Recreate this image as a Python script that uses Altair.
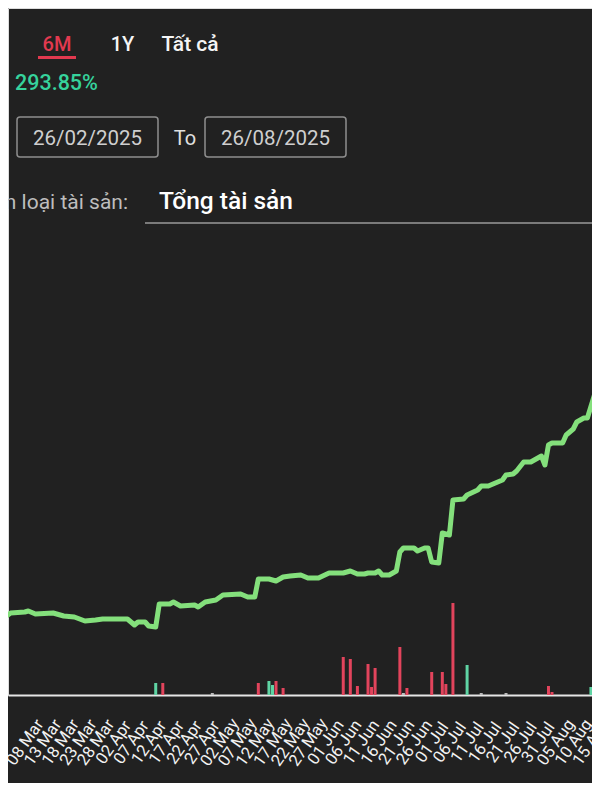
import altair as alt
import pandas as pd

# ---------------- data ----------------
LINE_DATES = [
    "2025-02-26", "2025-03-02", "2025-03-04", "2025-03-08", "2025-03-09", "2025-03-11",
    "2025-03-16", "2025-03-19", "2025-03-22", "2025-03-25", "2025-03-28", "2025-03-30",
    "2025-04-06", "2025-04-08", "2025-04-09", "2025-04-11", "2025-04-12", "2025-04-14",
    "2025-04-15", "2025-04-18", "2025-04-19", "2025-04-21", "2025-04-25", "2025-04-26",
    "2025-04-28", "2025-05-01", "2025-05-03", "2025-05-08", "2025-05-10", "2025-05-12",
    "2025-05-13", "2025-05-16", "2025-05-18", "2025-05-20", "2025-05-22", "2025-05-25",
    "2025-05-27", "2025-05-30", "2025-06-02", "2025-06-06", "2025-06-08", "2025-06-10",
    "2025-06-12", "2025-06-13", "2025-06-15", "2025-06-16", "2025-06-17", "2025-06-19",
    "2025-06-21", "2025-06-22", "2025-06-23", "2025-06-26", "2025-06-27", "2025-06-29",
    "2025-06-30", "2025-07-01", "2025-07-03", "2025-07-04", "2025-07-06", "2025-07-07",
    "2025-07-10", "2025-07-11", "2025-07-14", "2025-07-15", "2025-07-17", "2025-07-19",
    "2025-07-21", "2025-07-22", "2025-07-24", "2025-07-25", "2025-07-27", "2025-07-29",
    "2025-07-30", "2025-08-01", "2025-08-02", "2025-08-03", "2025-08-04", "2025-08-07",
    "2025-08-08", "2025-08-10", "2025-08-11", "2025-08-13", "2025-08-14", "2025-08-16",
    "2025-08-19",
]
LINE_PCT = [
    0.0, 0.0, 4.0, 4.8, 5.6, 3.2,
    4.0, 1.6, 0.8, -2.4, -1.6, -0.8,
    -0.8, -5.6, -3.2, -3.2, -6.4, -7.2,
    11.2, 11.2, 12.8, 9.6, 10.4, 8.8,
    12.8, 14.4, 18.4, 19.2, 16.8, 16.8,
    31.2, 31.2, 29.6, 32.8, 33.6, 34.4,
    32.0, 32.0, 36.0, 36.0, 37.6, 35.2,
    35.2, 36.0, 36.0, 37.6, 34.4, 34.4,
    37.6, 52.8, 56.0, 56.0, 53.6, 56.0,
    56.0, 44.8, 44.0, 68.0, 66.4, 94.4,
    95.2, 98.4, 102.4, 105.6, 105.6, 108.0,
    110.4, 114.4, 115.2, 117.6, 124.8, 124.8,
    126.4, 129.6, 122.4, 138.4, 140.0, 140.0,
    146.4, 151.2, 156.8, 160.0, 160.0, 178.4,
    200.0,
]

BAR_DATES = [
    "2025-04-14", "2025-04-16", "2025-04-30", "2025-05-13", "2025-05-16", "2025-05-17",
    "2025-05-18", "2025-05-20", "2025-06-06", "2025-06-08", "2025-06-10", "2025-06-13",
    "2025-06-14", "2025-06-15", "2025-06-22", "2025-06-23", "2025-06-24", "2025-07-01",
    "2025-07-04", "2025-07-05", "2025-07-07", "2025-07-11", "2025-07-15", "2025-07-22",
    "2025-08-03", "2025-08-04", "2025-08-15", "2025-08-16",
]
BAR_VALUES = [
    12, 12, 2, 12, 14, 10,
    14, 7, 38, 36, 9, 31,
    8, 27, 48, 2, 7, 23,
    23, 11, 92, 30, 2, 2,
    9, 3, 8, 9,
]
BAR_TYPES = [
    "Mua", "Bán", "Khác", "Bán", "Mua", "Mua",
    "Bán", "Bán", "Bán", "Bán", "Bán", "Bán",
    "Bán", "Bán", "Bán", "Khác", "Bán", "Bán",
    "Bán", "Bán", "Bán", "Mua", "Khác", "Khác",
    "Bán", "Bán", "Mua", "Mua",
]

TICK_DATES = [
    "2025-03-03", "2025-03-08", "2025-03-13", "2025-03-18", "2025-03-23", "2025-03-28",
    "2025-04-02", "2025-04-07", "2025-04-12", "2025-04-17", "2025-04-22", "2025-04-27",
    "2025-05-02", "2025-05-07", "2025-05-12", "2025-05-17", "2025-05-22", "2025-05-27",
    "2025-06-01", "2025-06-06", "2025-06-11", "2025-06-16", "2025-06-21", "2025-06-26",
    "2025-07-01", "2025-07-06", "2025-07-11", "2025-07-16", "2025-07-21", "2025-07-26",
    "2025-07-31", "2025-08-05", "2025-08-10", "2025-08-15", "2025-08-20", "2025-08-25",
]
TICK_FORMAT = "%d %b"

RANGE_ACTIVE = "6M"
RANGE_OTHERS = ["1Y", "Tất cả"]
RETURN_TEXT = "293.85%"
FROM_DATE = "26/02/2025"
TO_LABEL = "To"
TO_DATE = "26/08/2025"
ASSET_LABEL = "Chọn loại tài sản:"
ASSET_VALUE = "Tổng tài sản"

BG = "#212121"
GREEN_LINE = "#84e07c"
RED = "#e2394f"
TEAL = "#36d39c"


def dt(s, h=0, m=0):
    y, mo, d = (int(v) for v in s.split("-"))
    return alt.DateTime(year=y, month=mo, date=d, hours=h, minutes=m, utc=True)


line_df = pd.DataFrame({"date": LINE_DATES, "pct": LINE_PCT})
bar_df = pd.DataFrame({"date": BAR_DATES, "value": BAR_VALUES, "type": BAR_TYPES})

x_scale = alt.Scale(type="utc", domain=[dt("2025-03-04", 16), dt("2025-08-13", 21, 20)])
x_axis = alt.Axis(
    values=[dt(s) for s in TICK_DATES],
    format=TICK_FORMAT,
    labelAngle=-55,
    labelAlign="center",
    labelBaseline="middle",
    labelPadding=47,
    labelOverlap=False,
    labelFlush=False,
    labelColor="#f2f2f2",
    labelFontSize=16.5,
    labelFont="Roboto",
    ticks=False,
    tickSize=0,
    grid=False,
    domainColor="#e6e6e6",
    domainWidth=2,
    title=None,
)

line = alt.Chart(line_df).mark_line(
    color=GREEN_LINE, strokeWidth=5, strokeJoin="round", strokeCap="round", clip=True
).encode(
    x=alt.X("date:T", scale=x_scale, axis=x_axis),
    y=alt.Y("pct:Q", scale=alt.Scale(domain=[-61.6, 488], nice=False, zero=False), axis=None),
)

bars = alt.Chart(bar_df).mark_bar(size=3, clip=True).encode(
    x=alt.X("date:T", scale=x_scale, axis=x_axis),
    y=alt.Y("value:Q", scale=alt.Scale(domain=[0, 687], nice=False), axis=None),
    color=alt.Color(
        "type:N",
        scale=alt.Scale(domain=["Mua", "Bán", "Khác"], range=["#5fd4a4", "#e2445c", "#bdbdbd"]),
        legend=None,
    ),
)


def txt(text, x, y, size, color, align="center", weight=400):
    return alt.Chart(pd.DataFrame({"t": [text]})).mark_text(
        align=align, baseline="middle", fontSize=size, color=color,
        font="Roboto", fontWeight=weight,
    ).encode(x=alt.value(x), y=alt.value(y), text="t:N")


def box(x1, x2, y1, y2):
    return alt.Chart(pd.DataFrame({"t": [0]})).mark_rect(
        fillOpacity=0, stroke="#8e8e8e", strokeWidth=1.5, cornerRadius=3
    ).encode(x=alt.value(x1), x2=alt.value(x2), y=alt.value(y1), y2=alt.value(y2))


def hline(x1, x2, y, color, width):
    return alt.Chart(pd.DataFrame({"t": [0]})).mark_rule(
        color=color, strokeWidth=width
    ).encode(x=alt.value(x1), x2=alt.value(x2), y=alt.value(y))


header = [
    txt(RANGE_ACTIVE, 49, 37, 20, RED, weight=500),
    hline(30, 68, 49.5, RED, 3),
    txt(RANGE_OTHERS[0], 114.5, 37, 20, "#f5f5f5", weight=500),
    txt(RANGE_OTHERS[1], 182, 37, 21, "#f5f5f5", weight=500),
    txt(RETURN_TEXT, 7, 76, 21.5, TEAL, align="left", weight=500),
    box(9, 150, 109, 149),
    txt(FROM_DATE, 79.5, 131, 20.5, "#cfcfcf"),
    txt(TO_LABEL, 177, 131, 20, "#e0e0e0"),
    box(197, 338, 109, 149),
    txt(TO_DATE, 267.5, 131, 20.5, "#cfcfcf"),
    txt(ASSET_LABEL, 120, 195, 21, "#bdbdbd", align="right"),
    txt(ASSET_VALUE, 151, 194, 24.5, "#ffffff", align="left", weight=500),
    hline(137, 584, 215, "#9a9a9a", 1.5),
]

chart = alt.layer(*header, bars, line).resolve_scale(
    y="independent", color="independent"
).properties(
    width=584,
    height=687,
    autosize=alt.AutoSizeParams(type="none"),
    padding={"left": 0, "top": 0, "right": 0, "bottom": 88},
    background=BG,
).configure_view(strokeWidth=0).configure(font="Roboto")

chart.save("out.html", embed_options={"renderer": "svg", "actions": False})
